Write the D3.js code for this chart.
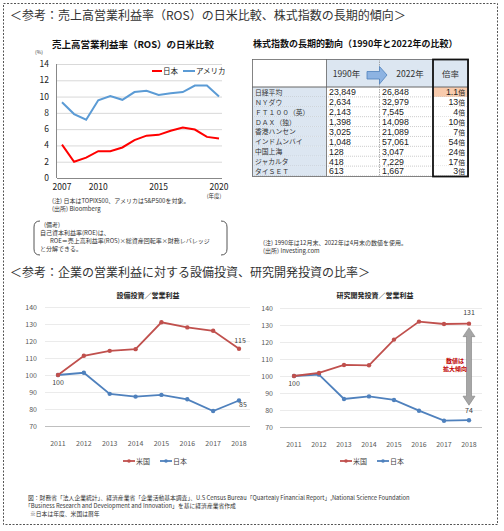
<!DOCTYPE html>
<html>
<head>
<meta charset="utf-8">
<script src="https://cdn.jsdelivr.net/npm/d3@7"></script>
<style>
  body { margin: 0; background: #fff; }
  svg { display: block; font-family: "Noto Sans CJK JP", "Noto Sans", sans-serif; }
</style>
</head>
<body>
<svg width="504" height="531"></svg>
<script>
// ROS (売上高営業利益率)
const rosYears = [2007, 2008, 2009, 2010, 2011, 2012, 2013, 2014, 2015, 2016, 2017, 2018, 2019, 2020];
const rosJapan = [4.1, 2.0, 2.5, 3.3, 3.3, 3.75, 4.65, 5.2, 5.3, 5.8, 6.2, 5.95, 5.05, 4.85];
const rosUS = [9.3, 7.85, 7.15, 9.55, 10.05, 9.6, 10.55, 10.7, 10.2, 10.4, 10.55, 11.35, 11.35, 10.0];
const rosXTicks = [2007, 2010, 2015, 2020];

// 株式指数
const indexNames = ["日経平均", "ＮＹダウ", "ＦＴ１００（英）", "ＤＡＸ（独）", "香港ハンセン", "インドムンバイ", "中国上海", "ジャカルタ", "タイＳＥＴ"];
const index1990 = ["23,849", "2,634", "2,143", "1,398", "3,025", "1,048", "128", "418", "613"];
const index2022 = ["26,848", "32,979", "7,545", "14,098", "21,089", "57,061", "3,047", "7,229", "1,667"];
const indexRatio = ["1.1", "13", "4", "10", "7", "54", "24", "17", "3"];
const tableHeader = ["", "1990年", "2022年", "倍率"];

// 設備投資・研究開発投資 / 営業利益
const fyYears = ["2011", "2012", "2013", "2014", "2015", "2016", "2017", "2018"];
const capexUS = [100, 111.3, 114.2, 115.2, 131, 128, 126, 115.4];
const capexJapan = [100, 101.3, 88.9, 87.3, 88.3, 85.7, 78.8, 85];
const rdUS = [100, 101.8, 106.5, 106.3, 121.4, 132, 130.6, 130.8];
const rdJapan = [100, 100.8, 86.5, 88, 85.9, 79.6, 73.7, 74];

const svg = d3.select("svg");
const grey = "#404040";

// outer dashed frame
svg.append("rect")
  .attr("x", 3.5).attr("y", 3.5).attr("width", 494).attr("height", 521)
  .attr("fill", "none").attr("stroke", "#555").attr("stroke-dasharray", "2,1.5");

function txt(x, y, s, size, opts = {}) {
  return svg.append("text")
    .attr("x", x).attr("y", y)
    .attr("font-size", size)
    .attr("fill", opts.fill || grey)
    .attr("font-weight", opts.bold ? "bold" : null)
    .attr("text-anchor", opts.anchor || "start")
    .attr("font-family", opts.family || null)
    .text(s);
}

txt(10, 20, "＜参考：売上高営業利益率（ROS）の日米比較、株式指数の長期的傾向＞", 12, { fill: "#333" });
txt(10, 277, "＜参考：企業の営業利益に対する設備投資、研究開発投資の比率＞", 12, { fill: "#333" });

// ---------- ROS chart ----------
txt(133, 48, "売上高営業利益率（ROS）の日米比較", 9.5, { bold: true, anchor: "middle", fill: "#111" });

const xR = d3.scaleLinear().domain([2007, 2020]).range([62, 219]);
const yR = d3.scaleLinear().domain([0, 14]).range([178, 64]);

svg.append("g").selectAll("line")
  .data(yR.ticks(7))
  .join("line")
  .attr("x1", 57).attr("x2", 222)
  .attr("y1", d => yR(d) + 0.5).attr("y2", d => yR(d) + 0.5)
  .attr("stroke", d => d === 0 ? "#888" : "#d9d9d9");
svg.append("line").attr("x1", 56.5).attr("x2", 56.5).attr("y1", 64).attr("y2", 178).attr("stroke", "#888");

svg.append("g").selectAll("text")
  .data(yR.ticks(7))
  .join("text")
  .attr("x", 49).attr("y", d => yR(d) + 3)
  .attr("text-anchor", "end").attr("font-size", 8.5).attr("fill", "#222")
  .text(d => d);
svg.append("g").selectAll("text")
  .data(rosXTicks)
  .join("text")
  .attr("x", d => xR(d)).attr("y", 190)
  .attr("text-anchor", "middle").attr("font-size", 8.5).attr("fill", "#222")
  .text(d => d);
txt(35, 54, "(%)", 5, { fill: "#333" });
txt(214, 198, "(年度)", 5.5, { anchor: "middle", fill: "#333" });

const rosLine = d3.line().x((d, i) => xR(rosYears[i])).y(d => yR(d));
svg.append("path").datum(rosUS).attr("d", rosLine).attr("fill", "none").attr("stroke", "#5b9bd5").attr("stroke-width", 2);
svg.append("path").datum(rosJapan).attr("d", rosLine).attr("fill", "none").attr("stroke", "#ff0000").attr("stroke-width", 2);

svg.append("line").attr("x1", 152).attr("x2", 162).attr("y1", 71).attr("y2", 71).attr("stroke", "#ff0000").attr("stroke-width", 2);
txt(163, 74, "日本", 7.5, { fill: "#222" });
svg.append("line").attr("x1", 183).attr("x2", 195).attr("y1", 71).attr("y2", 71).attr("stroke", "#5b9bd5").attr("stroke-width", 2);
txt(196, 74, "アメリカ", 7.5, { fill: "#222" });

txt(52, 203, "(注) 日本はTOPIX500、アメリカはS&P500を対象。", 6, { fill: "#333" });
txt(52, 211, "(出所) Bloomberg", 6, { fill: "#333" });

// bracket note
svg.append("path")
  .attr("d", "M40,221 Q34,221 34,227 L34,249 Q34,255 40,255")
  .attr("fill", "none").attr("stroke", "#555");
svg.append("path")
  .attr("d", "M221,221 Q227,221 227,227 L227,249 Q227,255 221,255")
  .attr("fill", "none").attr("stroke", "#555");
txt(44, 227, "(備考)", 6, { fill: "#333" });
txt(40, 235, "自己資本利益率(ROE)は、", 6, { fill: "#333" });
txt(50, 243, "ROE＝売上高利益率(ROS)×総資産回転率×財務レバレッジ", 6, { fill: "#333" });
txt(40, 251, "と分解できる。", 6, { fill: "#333" });

// ---------- table ----------
txt(253, 47, "株式指数の長期的動向（1990年と2022年の比較）", 9, { bold: true, fill: "#111" });

const colX = [252, 326, 379, 433, 468];
const headTop = 59, headBot = 87;
const rowY = d3.scaleBand().domain(d3.range(indexNames.length)).range([headBot, 176]);

// header fills
svg.append("rect").attr("x", colX[0]).attr("y", headTop).attr("width", colX[1] - colX[0]).attr("height", headBot - headTop).attr("fill", "#fff");
svg.append("rect").attr("x", colX[1]).attr("y", headTop).attr("width", colX[4] - colX[1]).attr("height", headBot - headTop).attr("fill", "#dce6f1");

const rows = svg.append("g").selectAll("g")
  .data(indexNames)
  .join("g")
  .attr("transform", (d, i) => `translate(0,${rowY(i)})`);
rows.append("rect").attr("x", colX[0]).attr("width", colX[1] - colX[0]).attr("height", rowY.bandwidth()).attr("fill", "#dce6f1");
rows.append("rect").attr("x", colX[3]).attr("width", colX[4] - colX[3]).attr("height", rowY.bandwidth())
  .attr("fill", (d, i) => i === 0 ? "#f8cbad" : "#fff");
rows.append("line").attr("x1", colX[0]).attr("x2", colX[4]).attr("y1", rowY.bandwidth()).attr("y2", rowY.bandwidth())
  .attr("stroke", "#aaa").attr("stroke-width", 0.6).attr("stroke-dasharray", "1,1");
rows.append("text").attr("x", colX[0] + 3).attr("y", rowY.bandwidth() - 2)
  .attr("font-size", 6.8).attr("fill", "#333").text(d => d);
rows.append("text").attr("x", colX[1] + 3).attr("y", rowY.bandwidth() - 1.5)
  .attr("font-size", 8.8).attr("font-family", "Liberation Sans, sans-serif").attr("fill", "#222").text((d, i) => index1990[i]);
rows.append("text").attr("x", colX[2] + 3).attr("y", rowY.bandwidth() - 1.5)
  .attr("font-size", 8.8).attr("font-family", "Liberation Sans, sans-serif").attr("fill", "#222").text((d, i) => index2022[i]);
const ratioText = rows.append("text").attr("x", colX[4] - 3).attr("y", rowY.bandwidth() - 1.5).attr("text-anchor", "end")
  .attr("fill", "#222");
ratioText.append("tspan").attr("font-size", 8.8).attr("font-family", "Liberation Sans, sans-serif").text((d, i) => indexRatio[i]);
ratioText.append("tspan").attr("font-size", 6.8).text("倍");

// grid lines
svg.append("rect").attr("x", colX[0] + 0.5).attr("y", headTop + 0.5).attr("width", colX[4] - colX[0]).attr("height", 176 - headTop)
  .attr("fill", "none").attr("stroke", "#666").attr("stroke-width", 0.8);
svg.append("line").attr("x1", colX[0]).attr("x2", colX[4]).attr("y1", headBot).attr("y2", headBot).attr("stroke", "#666");
svg.append("line").attr("x1", colX[1] + 0.5).attr("x2", colX[1] + 0.5).attr("y1", headTop).attr("y2", 176).attr("stroke", "#666").attr("stroke-width", 0.8);
svg.append("line").attr("x1", colX[2] + 0.5).attr("x2", colX[2] + 0.5).attr("y1", headTop).attr("y2", 176).attr("stroke", "#888").attr("stroke-width", 0.7).attr("stroke-dasharray", "1.5,1");

// header texts
txt((colX[1] + colX[2]) / 2 - 6, 77, tableHeader[1], 8.5, { anchor: "middle", fill: "#333" });
txt((colX[2] + colX[3]) / 2 + 4, 77, tableHeader[2], 8.5, { anchor: "middle", fill: "#333" });
txt((colX[3] + colX[4]) / 2, 77, tableHeader[3], 8.5, { anchor: "middle", fill: "#333" });
// header arrow
svg.append("path")
  .attr("d", "M367,71.5 L379.5,71.5 L379.5,66.5 L387,75 L379.5,84 L379.5,79 L367,79 Z")
  .attr("fill", "#8db3e2").attr("stroke", "#4f81bd").attr("stroke-width", 0.8);

// thick ratio column frame
svg.append("rect").attr("x", colX[3]).attr("y", headTop + 0.5).attr("width", colX[4] - colX[3]).attr("height", 176 - headTop)
  .attr("fill", "none").attr("stroke", "#111").attr("stroke-width", 1.8);

txt(263, 245, "(注) 1990年は12月末、2022年は4月末の数値を使用。", 6, { fill: "#333" });
txt(263, 253, "(出所) Investing.com", 6, { fill: "#333" });

// ---------- bottom charts ----------
function ratioChart(cfg) {
  const x = d3.scalePoint().domain(fyYears).range(cfg.xr);
  const y = d3.scaleLinear().domain([70, 140]).range(cfg.yr);
  const g = svg.append("g");
  g.append("text").attr("x", cfg.titleX).attr("y", 298).attr("text-anchor", "middle")
    .attr("font-size", 7).attr("font-weight", "bold").attr("fill", "#222").text(cfg.title);
  g.append("g").selectAll("line").data(y.ticks(7)).join("line")
    .attr("x1", cfg.grid[0]).attr("x2", cfg.grid[1])
    .attr("y1", d => Math.round(y(d)) + 0.5).attr("y2", d => Math.round(y(d)) + 0.5)
    .attr("stroke", d => d === 70 ? "#bfbfbf" : "#ebebeb");
  g.append("g").selectAll("text").data(y.ticks(7)).join("text")
    .attr("x", cfg.labelX).attr("y", d => y(d) + 2.5).attr("text-anchor", "end")
    .attr("font-size", 7).attr("fill", "#595959").text(d => d);
  g.append("g").selectAll("text").data(fyYears).join("text")
    .attr("x", d => x(d)).attr("y", cfg.yr[0] + 20).attr("text-anchor", "middle")
    .attr("font-size", 7).attr("fill", "#595959").text(d => d);

  const line = d3.line().x((d, i) => x(fyYears[i])).y(d => y(d));
  [[cfg.jp, "#4f81bd"], [cfg.us, "#c0504d"]].forEach(([vals, col]) => {
    g.append("path").datum(vals).attr("d", line).attr("fill", "none").attr("stroke", col).attr("stroke-width", 1.8);
    g.append("g").selectAll("circle").data(vals).join("circle")
      .attr("cx", (d, i) => x(fyYears[i])).attr("cy", d => y(d)).attr("r", 2.2).attr("fill", col);
  });

  // data labels
  g.append("text").attr("x", x(fyYears[0])).attr("y", y(100) + 10).attr("text-anchor", "middle")
    .attr("font-size", 7).attr("fill", grey).text("100");
  const last = fyYears.length - 1;
  g.append("text").attr("x", x(fyYears[last]) + cfg.usDx).attr("y", y(cfg.us[last]) + cfg.usDy).attr("text-anchor", "middle")
    .attr("font-size", 7).attr("fill", grey).text(Math.round(cfg.us[last]));
  g.append("text").attr("x", x(fyYears[last]) + cfg.jpDx).attr("y", y(cfg.jp[last]) + cfg.jpDy).attr("text-anchor", "middle")
    .attr("font-size", 7).attr("fill", grey).text(Math.round(cfg.jp[last]));

  // legend
  const lg = g.append("g").attr("transform", `translate(${cfg.legendX},461)`);
  [["米国", "#c0504d", 0], ["日本", "#4f81bd", 37]].forEach(([name, col, dx]) => {
    lg.append("line").attr("x1", dx).attr("x2", dx + 12).attr("y1", 0).attr("y2", 0).attr("stroke", col).attr("stroke-width", 1.8);
    lg.append("circle").attr("cx", dx + 6).attr("cy", 0).attr("r", 1.8).attr("fill", col);
    lg.append("text").attr("x", dx + 13).attr("y", 3).attr("font-size", 7).attr("fill", grey).text(name);
  });
  return { x, y };
}

ratioChart({
  title: "設備投資／営業利益", titleX: 148,
  xr: [58, 239], yr: [426, 307], grid: [45, 250], labelX: 37,
  us: capexUS, jp: capexJapan, usDx: 1, usDy: -6, jpDx: 4, jpDy: 6, legendX: 123
});

const rd = ratioChart({
  title: "研究開発投資／営業利益", titleX: 375,
  xr: [294, 469], yr: [427, 308], grid: [280, 482], labelX: 273,
  us: rdUS, jp: rdJapan, usDx: 0, usDy: -9, jpDx: 0, jpDy: -7, legendX: 340
});

// gap arrow
const ax = rd.x(fyYears[fyYears.length - 1]);
const aTop = rd.y(rdUS[rdUS.length - 1]) + 4, aBot = rd.y(rdJapan[rdJapan.length - 1]) - 15;
svg.append("path")
  .attr("d", `M${ax},${aTop} L${ax + 6},${aTop + 9} L${ax + 2.5},${aTop + 9} L${ax + 2.5},${aBot - 9} L${ax + 6},${aBot - 9} L${ax},${aBot} L${ax - 6},${aBot - 9} L${ax - 2.5},${aBot - 9} L${ax - 2.5},${aTop + 9} L${ax - 6},${aTop + 9} Z`)
  .attr("fill", "#a6a6a6").attr("stroke", "#7f7f7f").attr("stroke-width", 0.6);
txt(455, 363, "数値は", 6, { anchor: "middle", fill: "#c00000", bold: true });
txt(455, 371, "拡大傾向", 6, { anchor: "middle", fill: "#c00000", bold: true });

// footer
txt(28, 500, "図：財務省「法人企業統計」、経済産業省「企業活動基本調査」、U.S Census Bureau「Quartealy Financial Report」,National Science Foundation", 5.8, { fill: "#333" });
txt(25, 508, "「Business Research and Development and Innovation」を基に経済産業省作成", 5.8, { fill: "#333" });
txt(30, 516, "※日本は年度、米国は暦年", 5.8, { fill: "#333" });
</script>
</body>
</html>
